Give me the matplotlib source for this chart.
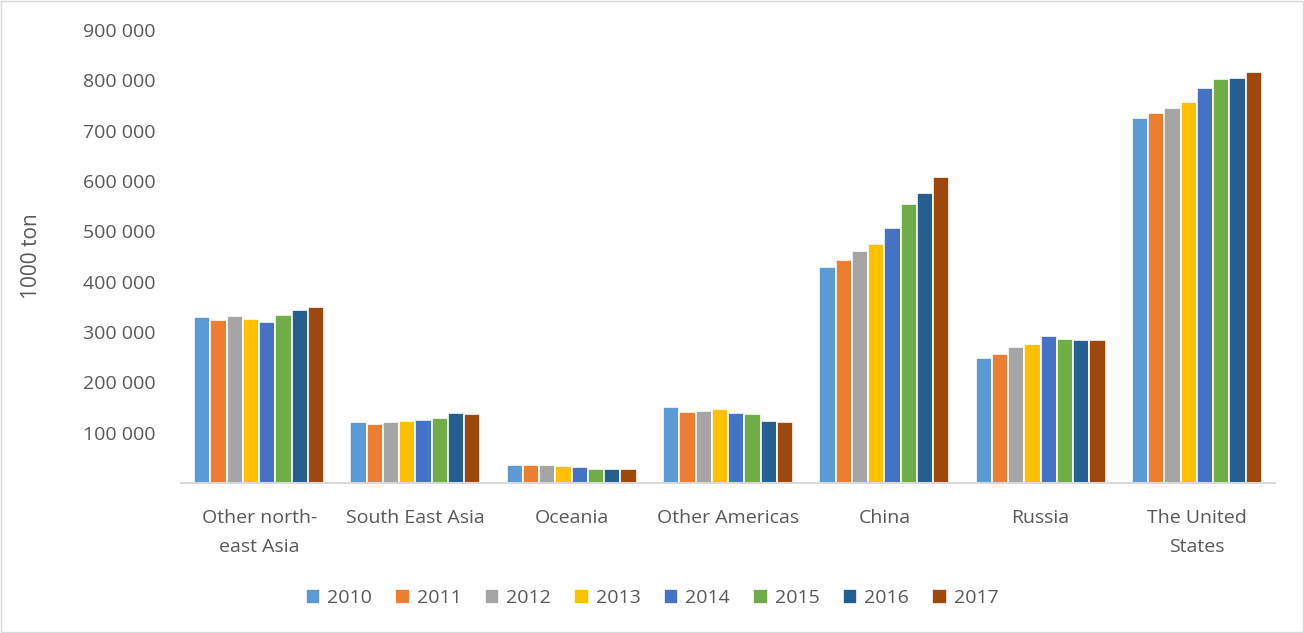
import matplotlib
matplotlib.use("Agg")
import matplotlib.pyplot as plt
import numpy as np
from matplotlib.patches import Rectangle

regions = ["Other north-\neast Asia", "South East Asia", "Oceania", "Other Americas",
           "China", "Russia", "The United\nStates"]
years = ["2010", "2011", "2012", "2013", "2014", "2015", "2016", "2017"]

# values in 1000 ton, one list per year (order = regions)
v2010 = [330000, 121000, 35000, 151000, 430000, 249000, 726000]
v2011 = [324000, 118000, 36000, 142000, 443000, 257000, 735000]
v2012 = [332000, 122000, 35000, 144000, 461000, 270000, 745000]
v2013 = [326000, 123000, 34000, 146000, 475000, 277000, 757000]
v2014 = [320000, 125000, 32000, 139000, 506000, 293000, 784000]
v2015 = [334000, 129000, 27000, 137000, 555000, 287000, 802000]
v2016 = [344000, 139000, 28000, 123000, 576000, 284000, 804000]
v2017 = [350000, 137000, 27000, 122000, 608000, 284000, 816000]
series = [v2010, v2011, v2012, v2013, v2014, v2015, v2016, v2017]

colors = ["#5B9BD5", "#ED7D31", "#A5A5A5", "#FFC000",
          "#4472C4", "#70AD47", "#255E91", "#9E480E"]

plt.rcParams['font.family'] = ['Open Sans', 'DejaVu Sans']
txt = "#595959"

fig = plt.figure(figsize=(13.04, 6.33), dpi=100)
ax = fig.add_axes([0.1388, 0.237, 0.839, 0.7156])

x = np.arange(len(regions))
w = 0.104
for i, (vals, c, yr) in enumerate(zip(series, colors, years)):
    ax.bar(x + (i - 3.5) * w, vals, width=w, color=c, edgecolor="white",
           linewidth=1.2, label=yr)

ax.set_xlim(-0.5, len(regions) - 0.5)
ax.set_ylim(0, 900000)
ax.set_yticks(range(100000, 900001, 100000))
ax.set_yticklabels([f"{v:,}".replace(",", " ") for v in range(100000, 900001, 100000)])
ax.set_xticks(x)
ax.set_xticklabels(regions, linespacing=1.75)
ax.tick_params(axis="both", length=0, labelsize=14, labelcolor=txt)
ax.tick_params(axis="y", pad=18)
ax.tick_params(axis="x", pad=19)

for s in ["top", "right", "left"]:
    ax.spines[s].set_visible(False)
ax.spines["bottom"].set_color("#D9D9D9")
ax.spines["bottom"].set_linewidth(1.5)

ax.set_ylabel("1000 ton", fontsize=15, color=txt, labelpad=30)

leg = fig.legend(loc="center", bbox_to_anchor=(0.5, 0.055), ncol=8, frameon=False,
                 fontsize=14, handlelength=0.75, handleheight=0.75,
                 handletextpad=0.35, columnspacing=1.2)
for t in leg.get_texts():
    t.set_color(txt)

fig.patches.append(Rectangle((0.001, 0.002), 0.998, 0.996, transform=fig.transFigure,
                             fill=False, edgecolor="#D9D9D9", linewidth=1))

fig.savefig("out.png", dpi=100)
